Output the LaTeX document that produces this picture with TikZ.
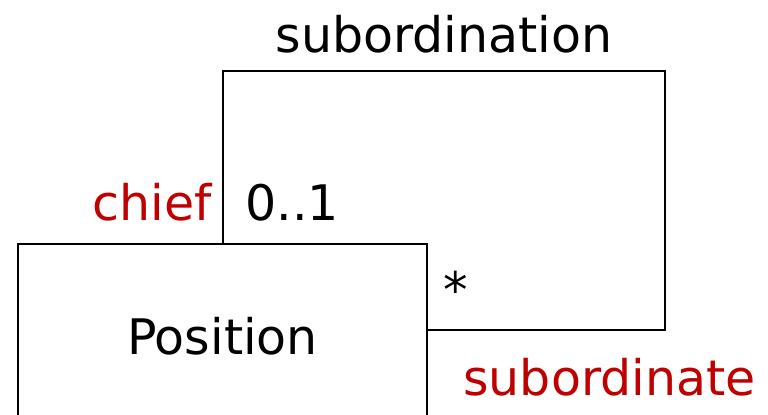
\documentclass[tikz,border=0pt]{standalone}
\usepackage{fontspec}
\setmainfont{DejaVu Sans}
\usepackage{tikz}
\usetikzlibrary{positioning,calc}
\definecolor{rolered}{HTML}{C00000}

\begin{document}
\begin{tikzpicture}[
  x=0.5pt,y=-0.5pt,
  every node/.style={font=\fontsize{24.5}{29}\selectfont,inner sep=0pt},
  cls/.style={draw,line width=1pt,minimum width=204.5pt,minimum height=92pt},
  assoc/.style={line width=1pt},
  role/.style={text=rolered},
  mult/.style={text=black}
]
\useasboundingbox (0,0) rectangle (768,415);
\node[cls] (pos) at (222.5,336) {Position};
\coordinate (top) at (665,71);
\coordinate (back) at ([yshift=-43.5pt]pos.north east);

\draw[assoc] (pos.north) |- (top) |- (back);

\node[anchor=base] (name) at (444,53) {subordination};
\node[role,anchor=base east] (chief) at (212,221) {chief};
\node[mult,anchor=base west] (one) at (245,221) {0..1};
\node[mult,anchor=base] (many) at (456,308) {*};
\node[role,anchor=base west] (sub) at (463,396) {subordinate};
\end{tikzpicture}
\end{document}
